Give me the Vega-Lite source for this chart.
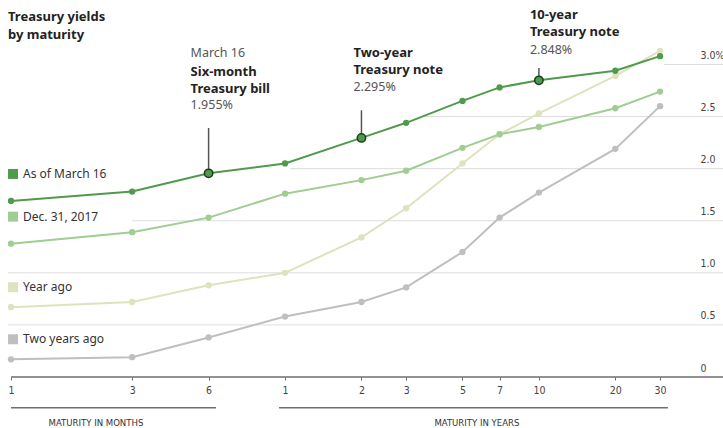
{
  "$schema": "https://vega.github.io/schema/vega-lite/v6.json",
  "width": 723,
  "height": 327,
  "autosize": {"type": "none"},
  "padding": {"left": 0, "right": 0, "top": 50, "bottom": 51},
  "background": "white",
  "config": {"view": {"stroke": null}, "font": "Noto Sans"},
  "title": {
    "text": ["Treasury yields", "by maturity"],
    "anchor": "start",
    "frame": "group",
    "font": "Noto Sans",
    "fontSize": 13,
    "fontWeight": "bold",
    "color": "#222",
    "lineHeight": 18,
    "offset": -33,
    "dx": 8
  },
  "datasets": {
    "yields": [
      {"series": "Two years ago", "maturity": "1M", "years": 0.0833333, "yield": 0.17},
      {"series": "Two years ago", "maturity": "3M", "years": 0.25, "yield": 0.19},
      {"series": "Two years ago", "maturity": "6M", "years": 0.5, "yield": 0.38},
      {"series": "Two years ago", "maturity": "1Y", "years": 1, "yield": 0.58},
      {"series": "Two years ago", "maturity": "2Y", "years": 2, "yield": 0.72},
      {"series": "Two years ago", "maturity": "3Y", "years": 3, "yield": 0.86},
      {"series": "Two years ago", "maturity": "5Y", "years": 5, "yield": 1.2},
      {"series": "Two years ago", "maturity": "7Y", "years": 7, "yield": 1.53},
      {"series": "Two years ago", "maturity": "10Y", "years": 10, "yield": 1.77},
      {"series": "Two years ago", "maturity": "20Y", "years": 20, "yield": 2.19},
      {"series": "Two years ago", "maturity": "30Y", "years": 30, "yield": 2.6},
      {"series": "Year ago", "maturity": "1M", "years": 0.0833333, "yield": 0.67},
      {"series": "Year ago", "maturity": "3M", "years": 0.25, "yield": 0.72},
      {"series": "Year ago", "maturity": "6M", "years": 0.5, "yield": 0.88},
      {"series": "Year ago", "maturity": "1Y", "years": 1, "yield": 1.0},
      {"series": "Year ago", "maturity": "2Y", "years": 2, "yield": 1.34},
      {"series": "Year ago", "maturity": "3Y", "years": 3, "yield": 1.62},
      {"series": "Year ago", "maturity": "5Y", "years": 5, "yield": 2.05},
      {"series": "Year ago", "maturity": "7Y", "years": 7, "yield": 2.33},
      {"series": "Year ago", "maturity": "10Y", "years": 10, "yield": 2.53},
      {"series": "Year ago", "maturity": "20Y", "years": 20, "yield": 2.89},
      {"series": "Year ago", "maturity": "30Y", "years": 30, "yield": 3.13},
      {"series": "Dec. 31, 2017", "maturity": "1M", "years": 0.0833333, "yield": 1.28},
      {"series": "Dec. 31, 2017", "maturity": "3M", "years": 0.25, "yield": 1.39},
      {"series": "Dec. 31, 2017", "maturity": "6M", "years": 0.5, "yield": 1.53},
      {"series": "Dec. 31, 2017", "maturity": "1Y", "years": 1, "yield": 1.76},
      {"series": "Dec. 31, 2017", "maturity": "2Y", "years": 2, "yield": 1.89},
      {"series": "Dec. 31, 2017", "maturity": "3Y", "years": 3, "yield": 1.98},
      {"series": "Dec. 31, 2017", "maturity": "5Y", "years": 5, "yield": 2.2},
      {"series": "Dec. 31, 2017", "maturity": "7Y", "years": 7, "yield": 2.33},
      {"series": "Dec. 31, 2017", "maturity": "10Y", "years": 10, "yield": 2.4},
      {"series": "Dec. 31, 2017", "maturity": "20Y", "years": 20, "yield": 2.58},
      {"series": "Dec. 31, 2017", "maturity": "30Y", "years": 30, "yield": 2.74},
      {"series": "As of March 16", "maturity": "1M", "years": 0.0833333, "yield": 1.69},
      {"series": "As of March 16", "maturity": "3M", "years": 0.25, "yield": 1.78},
      {"series": "As of March 16", "maturity": "6M", "years": 0.5, "yield": 1.955},
      {"series": "As of March 16", "maturity": "1Y", "years": 1, "yield": 2.05},
      {"series": "As of March 16", "maturity": "2Y", "years": 2, "yield": 2.295},
      {"series": "As of March 16", "maturity": "3Y", "years": 3, "yield": 2.44},
      {"series": "As of March 16", "maturity": "5Y", "years": 5, "yield": 2.65},
      {"series": "As of March 16", "maturity": "7Y", "years": 7, "yield": 2.78},
      {"series": "As of March 16", "maturity": "10Y", "years": 10, "yield": 2.848},
      {"series": "As of March 16", "maturity": "20Y", "years": 20, "yield": 2.94},
      {"series": "As of March 16", "maturity": "30Y", "years": 30, "yield": 3.08}
    ],
    "grid": [
      {"yield": 0.5, "from": 0.081},
      {"yield": 1.0, "from": 0.081},
      {"yield": 1.5, "from": 0.25},
      {"yield": 2.0, "from": 1.05},
      {"yield": 2.5, "from": 3.5},
      {"yield": 3.0, "from": 31}
    ],
    "brackets": [
      {"label": "MATURITY IN MONTHS", "from": 0.0833333, "to": 0.535, "mid": 0.18},
      {"label": "MATURITY IN YEARS", "from": 0.947, "to": 32.2, "mid": 5.7}
    ],
    "notes": [
      {"years": 0.5, "yield": 1.955, "name": ["Six-month", "Treasury bill"], "value": "1.955%", "date": "March 16"},
      {"years": 2, "yield": 2.295, "name": ["Two-year", "Treasury note"], "value": "2.295%", "date": ""},
      {"years": 10, "yield": 2.848, "name": ["10-year", "Treasury note"], "value": "2.848%", "date": ""}
    ]
  },
  "layer": [
    {
      "data": {"name": "grid"},
      "mark": {"type": "rule", "color": "#dddddd", "strokeWidth": 1},
      "encoding": {
        "x": {"field": "from", "type": "quantitative", "scale": {"type": "log", "domain": [0.0754, 53.1], "nice": false}},
        "x2": {"datum": 53.1},
        "y": {"field": "yield", "type": "quantitative", "scale": {"domain": [0, 3.139], "nice": false, "zero": false}}
      }
    },
    {
      "data": {"values": [{}]},
      "mark": {"type": "rule", "color": "#6e6e6e", "strokeWidth": 1.5},
      "encoding": {
        "x": {"datum": 0.0833333, "type": "quantitative", "scale": {"type": "log", "domain": [0.0754, 53.1], "nice": false}},
        "x2": {"datum": 53.1},
        "y": {"datum": 0, "type": "quantitative", "scale": {"domain": [0, 3.139], "nice": false, "zero": false}}
      }
    },
    {
      "data": {"name": "brackets"},
      "mark": {"type": "rule", "color": "#6e6e6e", "strokeWidth": 1.5},
      "encoding": {
        "x": {"field": "from", "type": "quantitative", "scale": {"type": "log", "domain": [0.0754, 53.1], "nice": false}},
        "x2": {"field": "to"},
        "y": {"datum": -0.295, "type": "quantitative", "scale": {"domain": [0, 3.139], "nice": false, "zero": false}}
      }
    },
    {
      "data": {"name": "brackets"},
      "mark": {"type": "text", "font": "'DejaVu Sans Condensed', Roboto, sans-serif", "fontSize": 9.5, "color": "#333", "align": "center", "baseline": "middle"},
      "encoding": {
        "x": {"field": "mid", "type": "quantitative", "scale": {"type": "log", "domain": [0.0754, 53.1], "nice": false}},
        "y": {"datum": -0.44, "type": "quantitative", "scale": {"domain": [0, 3.139], "nice": false, "zero": false}},
        "text": {"field": "label"}
      }
    },
    {
      "data": {"name": "yields"},
      "mark": {"type": "line", "strokeWidth": 2},
      "encoding": {
        "x": {
          "field": "years", "type": "quantitative",
          "scale": {"type": "log", "domain": [0.0754, 53.1], "nice": false},
          "axis": {
            "values": [0.0833333, 0.25, 0.5, 1, 2, 3, 5, 7, 10, 20, 30],
            "labelExpr": "datum.value < 0.9 ? format(round(datum.value * 12), 'd') : format(datum.value, 'd')",
            "domain": false, "grid": false, "title": null,
            "tickColor": "#6e6e6e", "tickSize": 3, "tickWidth": 1,
            "labelFont": "'DejaVu Sans Condensed', Roboto, sans-serif", "labelFontSize": 10.5, "labelColor": "#444",
            "labelPadding": 5, "labelFlush": false, "labelOverlap": false
          }
        },
        "y": {
          "field": "yield", "type": "quantitative",
          "scale": {"domain": [0, 3.139], "nice": false, "zero": false},
          "axis": {
            "orient": "right", "offset": -23,
            "values": [0, 0.5, 1, 1.5, 2, 2.5, 3],
            "labelExpr": "datum.value == 3 ? '3.0%' : datum.value == 0 ? '0' : format(datum.value, '.1f')",
            "domain": false, "ticks": false, "grid": false, "title": null,
            "labelAlign": "left", "labelBaseline": "bottom", "labelOffset": -4, "labelPadding": 0,
            "labelFont": "'DejaVu Sans Condensed', Roboto, sans-serif", "labelFontSize": 10.5, "labelColor": "#444",
            "labelOverlap": false, "labelBound": false
          }
        },
        "color": {
          "field": "series", "type": "nominal",
          "scale": {"domain": ["As of March 16", "Dec. 31, 2017", "Year ago", "Two years ago"], "range": ["#4f9a4b", "#9fcd92", "#dfe2bc", "#bfbfbf"]},
          "legend": null
        }
      }
    },
    {
      "data": {"name": "yields"},
      "mark": {"type": "circle", "size": 40, "opacity": 1},
      "encoding": {
        "x": {"field": "years", "type": "quantitative", "scale": {"type": "log", "domain": [0.0754, 53.1], "nice": false}},
        "y": {"field": "yield", "type": "quantitative", "scale": {"domain": [0, 3.139], "nice": false, "zero": false}},
        "color": {"field": "series", "type": "nominal", "legend": null}
      }
    },
    {
      "data": {"name": "yields"},
      "transform": [{"filter": "datum.years < 0.1 && (datum.series == 'As of March 16' || datum.series == 'Dec. 31, 2017')"}],
      "layer": [
        {
          "mark": {"type": "point", "shape": "square", "filled": true, "size": 100, "opacity": 1, "xOffset": 2, "yOffset": -27},
          "encoding": {
            "x": {"field": "years", "type": "quantitative", "scale": {"type": "log", "domain": [0.0754, 53.1], "nice": false}},
            "y": {"field": "yield", "type": "quantitative", "scale": {"domain": [0, 3.139], "nice": false, "zero": false}},
            "color": {"field": "series", "type": "nominal", "legend": null}
          }
        },
        {
          "mark": {"type": "text", "align": "left", "baseline": "middle", "dx": 12, "dy": -27, "fontSize": 12, "color": "#333", "font": "Noto Sans"},
          "encoding": {
            "x": {"field": "years", "type": "quantitative", "scale": {"type": "log", "domain": [0.0754, 53.1], "nice": false}},
            "y": {"field": "yield", "type": "quantitative", "scale": {"domain": [0, 3.139], "nice": false, "zero": false}},
            "text": {"field": "series"}
          }
        }
      ]
    },
    {
      "data": {"name": "yields"},
      "transform": [{"filter": "datum.years < 0.1 && (datum.series == 'Year ago' || datum.series == 'Two years ago')"}],
      "layer": [
        {
          "mark": {"type": "point", "shape": "square", "filled": true, "size": 100, "opacity": 1, "xOffset": 2, "yOffset": -20},
          "encoding": {
            "x": {"field": "years", "type": "quantitative", "scale": {"type": "log", "domain": [0.0754, 53.1], "nice": false}},
            "y": {"field": "yield", "type": "quantitative", "scale": {"domain": [0, 3.139], "nice": false, "zero": false}},
            "color": {"field": "series", "type": "nominal", "legend": null}
          }
        },
        {
          "mark": {"type": "text", "align": "left", "baseline": "middle", "dx": 12, "dy": -20, "fontSize": 12, "color": "#333", "font": "Noto Sans"},
          "encoding": {
            "x": {"field": "years", "type": "quantitative", "scale": {"type": "log", "domain": [0.0754, 53.1], "nice": false}},
            "y": {"field": "yield", "type": "quantitative", "scale": {"domain": [0, 3.139], "nice": false, "zero": false}},
            "text": {"field": "series"}
          }
        }
      ]
    },
    {
      "data": {"name": "notes"},
      "transform": [{"filter": "datum.years == 0.5"}],
      "layer": [
        {
          "mark": {"type": "rule", "color": "#555", "strokeWidth": 1.5},
          "encoding": {
            "x": {"field": "years", "type": "quantitative", "scale": {"type": "log", "domain": [0.0754, 53.1], "nice": false}},
            "y": {"field": "yield", "type": "quantitative", "scale": {"domain": [0, 3.139], "nice": false, "zero": false}},
            "y2": {"datum": 2.39}
          }
        },
        {
          "mark": {"type": "text", "align": "left", "baseline": "alphabetic", "dx": -18, "dy": -116, "fontSize": 12.5, "color": "#555", "font": "Noto Sans"},
          "encoding": {
            "x": {"field": "years", "type": "quantitative", "scale": {"type": "log", "domain": [0.0754, 53.1], "nice": false}},
            "y": {"field": "yield", "type": "quantitative", "scale": {"domain": [0, 3.139], "nice": false, "zero": false}},
            "text": {"field": "date"}
          }
        },
        {
          "mark": {"type": "text", "align": "left", "baseline": "alphabetic", "dx": -18, "dy": -97.5, "lineHeight": 17, "fontSize": 13, "fontWeight": "bold", "color": "#222", "font": "Noto Sans"},
          "encoding": {
            "x": {"field": "years", "type": "quantitative", "scale": {"type": "log", "domain": [0.0754, 53.1], "nice": false}},
            "y": {"field": "yield", "type": "quantitative", "scale": {"domain": [0, 3.139], "nice": false, "zero": false}},
            "text": {"field": "name"}
          }
        },
        {
          "mark": {"type": "text", "align": "left", "baseline": "alphabetic", "dx": -18, "dy": -64, "fontSize": 12.5, "color": "#555", "font": "Noto Sans"},
          "encoding": {
            "x": {"field": "years", "type": "quantitative", "scale": {"type": "log", "domain": [0.0754, 53.1], "nice": false}},
            "y": {"field": "yield", "type": "quantitative", "scale": {"domain": [0, 3.139], "nice": false, "zero": false}},
            "text": {"field": "value"}
          }
        }
      ]
    },
    {
      "data": {"name": "notes"},
      "transform": [{"filter": "datum.years == 2"}],
      "layer": [
        {
          "mark": {"type": "rule", "color": "#555", "strokeWidth": 1.5},
          "encoding": {
            "x": {"field": "years", "type": "quantitative", "scale": {"type": "log", "domain": [0.0754, 53.1], "nice": false}},
            "y": {"field": "yield", "type": "quantitative", "scale": {"domain": [0, 3.139], "nice": false, "zero": false}},
            "y2": {"datum": 2.56}
          }
        },
        {
          "mark": {"type": "text", "align": "left", "baseline": "alphabetic", "dx": -8, "dy": -80.5, "lineHeight": 17, "fontSize": 13, "fontWeight": "bold", "color": "#222", "font": "Noto Sans"},
          "encoding": {
            "x": {"field": "years", "type": "quantitative", "scale": {"type": "log", "domain": [0.0754, 53.1], "nice": false}},
            "y": {"field": "yield", "type": "quantitative", "scale": {"domain": [0, 3.139], "nice": false, "zero": false}},
            "text": {"field": "name"}
          }
        },
        {
          "mark": {"type": "text", "align": "left", "baseline": "alphabetic", "dx": -8, "dy": -46.5, "fontSize": 12.5, "color": "#555", "font": "Noto Sans"},
          "encoding": {
            "x": {"field": "years", "type": "quantitative", "scale": {"type": "log", "domain": [0.0754, 53.1], "nice": false}},
            "y": {"field": "yield", "type": "quantitative", "scale": {"domain": [0, 3.139], "nice": false, "zero": false}},
            "text": {"field": "value"}
          }
        }
      ]
    },
    {
      "data": {"name": "notes"},
      "transform": [{"filter": "datum.years == 10"}],
      "layer": [
        {
          "mark": {"type": "rule", "color": "#555", "strokeWidth": 1.5},
          "encoding": {
            "x": {"field": "years", "type": "quantitative", "scale": {"type": "log", "domain": [0.0754, 53.1], "nice": false}},
            "y": {"field": "yield", "type": "quantitative", "scale": {"domain": [0, 3.139], "nice": false, "zero": false}},
            "y2": {"datum": 2.966}
          }
        },
        {
          "mark": {"type": "text", "align": "left", "baseline": "alphabetic", "dx": -9, "dy": -61, "lineHeight": 17, "fontSize": 13, "fontWeight": "bold", "color": "#222", "font": "Noto Sans"},
          "encoding": {
            "x": {"field": "years", "type": "quantitative", "scale": {"type": "log", "domain": [0.0754, 53.1], "nice": false}},
            "y": {"field": "yield", "type": "quantitative", "scale": {"domain": [0, 3.139], "nice": false, "zero": false}},
            "text": {"field": "name"}
          }
        },
        {
          "mark": {"type": "text", "align": "left", "baseline": "alphabetic", "dx": -9, "dy": -26, "fontSize": 12.5, "color": "#555", "font": "Noto Sans"},
          "encoding": {
            "x": {"field": "years", "type": "quantitative", "scale": {"type": "log", "domain": [0.0754, 53.1], "nice": false}},
            "y": {"field": "yield", "type": "quantitative", "scale": {"domain": [0, 3.139], "nice": false, "zero": false}},
            "text": {"field": "value"}
          }
        }
      ]
    },
    {
      "data": {"name": "notes"},
      "mark": {"type": "circle", "size": 70, "opacity": 1, "color": "#4f9a4b", "stroke": "#1f3a1f", "strokeWidth": 1.5},
      "encoding": {
        "x": {"field": "years", "type": "quantitative", "scale": {"type": "log", "domain": [0.0754, 53.1], "nice": false}},
        "y": {"field": "yield", "type": "quantitative", "scale": {"domain": [0, 3.139], "nice": false, "zero": false}}
      }
    }
  ]
}
